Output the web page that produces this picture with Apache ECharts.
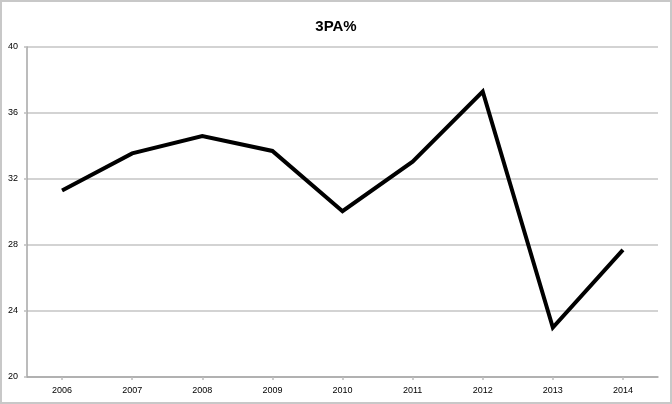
<!DOCTYPE html>
<html>
<head>
<meta charset="utf-8">
<script src="https://cdn.jsdelivr.net/npm/echarts@6/dist/echarts.min.js"></script>
<style>
html,body{margin:0;padding:0;background:#fff;}
#wrap{position:absolute;left:0;top:0;width:672px;height:404px;box-sizing:border-box;border:2px solid #c8c8c8;}
#chart{position:absolute;left:0;top:0;width:672px;height:404px;}
</style>
</head>
<body>
<div id="chart"></div>
<div id="wrap"></div>
<script>
var titleText = '3PA%';
var categories = ['2006','2007','2008','2009','2010','2011','2012','2013','2014'];
var values = [31.3, 33.55, 34.6, 33.7, 30.05, 33.05, 37.3, 23.0, 27.7];
var yMin = 20, yMax = 40, yInterval = 4;

var chart = echarts.init(document.getElementById('chart'), null, {renderer:'canvas'});
chart.setOption({
  animation: false,
  backgroundColor: '#fff',
  title: {
    text: titleText,
    left: 'center',
    top: 14,
    textStyle: {fontFamily: 'Liberation Sans', fontWeight: 'bold', fontSize: 15, color: '#000'}
  },
  grid: {left: 27, right: 14, top: 47, bottom: 27, containLabel: false},
  xAxis: {
    type: 'category',
    data: categories,
    boundaryGap: true,
    axisLine: {show: true, lineStyle: {color: '#a6a6a6', width: 1.5}},
    axisTick: {show: true, alignWithLabel: true, length: 3, lineStyle: {color: '#bdbdbd', width: 1.5}},
    axisLabel: {margin: 9, fontFamily: 'Liberation Sans', fontSize: 9, color: '#000'},
    splitLine: {show: false}
  },
  yAxis: {
    type: 'value',
    min: yMin, max: yMax, interval: yInterval,
    axisLine: {show: true, lineStyle: {color: '#a6a6a6', width: 1.5}},
    axisTick: {show: true, length: 3, lineStyle: {color: '#bdbdbd', width: 1.5}},
    axisLabel: {margin: 9, fontFamily: 'Liberation Sans', fontSize: 9, color: '#000'},
    splitLine: {show: true, lineStyle: {color: '#c4c4c4', width: 1.5}}
  },
  series: [{
    type: 'line',
    data: values,
    symbol: 'none',
    lineStyle: {color: '#000', width: 4, join: 'miter'},
    itemStyle: {color: '#000'}
  }]
});
</script>
</body>
</html>
